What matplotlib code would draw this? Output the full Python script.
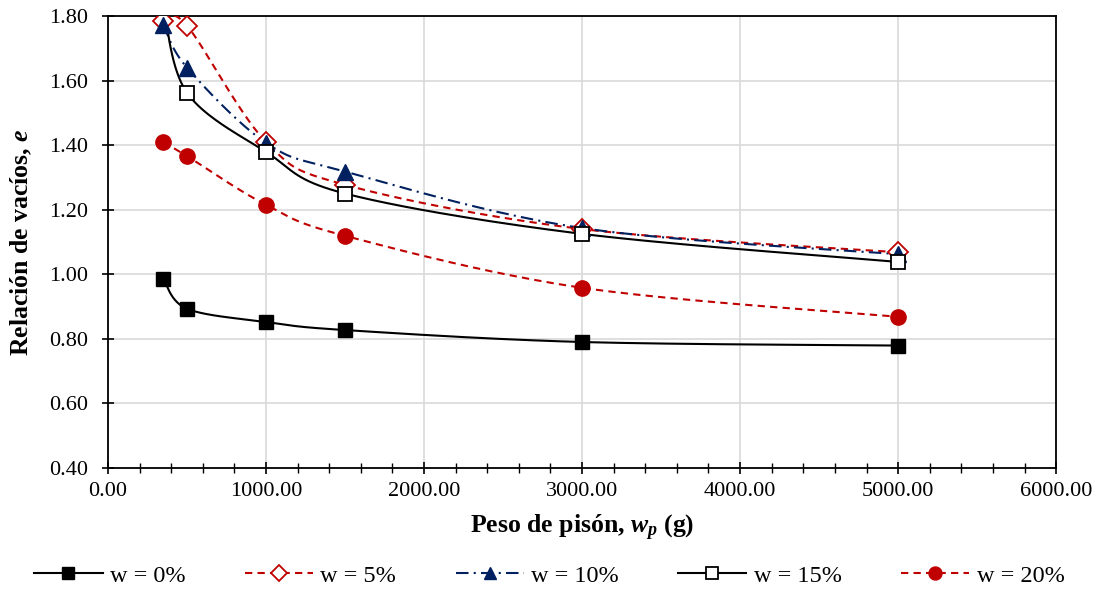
import numpy as np
import matplotlib
matplotlib.use("Agg")
import matplotlib.pyplot as plt
from matplotlib.ticker import MultipleLocator, FormatStrFormatter

plt.rcParams['font.family'] = 'Liberation Serif'
plt.rcParams['mathtext.fontset'] = 'custom'
plt.rcParams['mathtext.rm'] = 'Liberation Serif:bold'
plt.rcParams['mathtext.it'] = 'Liberation Serif:italic:bold'
plt.rcParams['mathtext.bf'] = 'Liberation Serif:bold'

# datos
peso = [350, 500, 1000, 1500, 3000, 5000]
e_w0 = [0.985, 0.893, 0.852, 0.827, 0.790, 0.779]
e_w5 = [1.785, 1.770, 1.410, 1.277, 1.140, 1.068]
e_w10 = [1.773, 1.640, 1.407, 1.318, 1.143, 1.062]
e_w15 = [1.830, 1.562, 1.379, 1.250, 1.125, 1.038]
e_w20 = [1.410, 1.366, 1.215, 1.119, 0.958, 0.868]

etiquetas = ['w = 0%', 'w = 5%', 'w = 10%', 'w = 15%', 'w = 20%']

xmin, xmax, ymin, ymax = 0, 6000, 0.40, 1.80


def suavizar(x, y, sx=948.0, sy=452.0, n=40):
    # curva suavizada tipo Excel (Bezier / Catmull-Rom) en coordenadas de pantalla
    px = (np.array(x, float) - xmin) / (xmax - xmin) * sx
    py = (np.array(y, float) - ymin) / (ymax - ymin) * sy
    P = np.column_stack([px, py])
    P = np.vstack([P[0], P, P[-1]])
    out = []
    t = np.linspace(0, 1, n)[:, None]
    for i in range(1, len(P) - 2):
        p0, p3 = P[i], P[i + 1]
        c1 = p0 + (P[i + 1] - P[i - 1]) / 6.0
        c2 = p3 - (P[i + 2] - P[i]) / 6.0
        seg = (1 - t) ** 3 * p0 + 3 * (1 - t) ** 2 * t * c1 + 3 * (1 - t) * t ** 2 * c2 + t ** 3 * p3
        out.append(seg)
    out = np.vstack(out)
    xs = out[:, 0] / sx * (xmax - xmin) + xmin
    ys = out[:, 1] / sy * (ymax - ymin) + ymin
    return xs, ys


rojo = '#C00000'
azul = '#002060'

series = [
    (e_w0, dict(color='black', ls='-'), dict(marker='s', ms=10, mfc='black', mec='black')),
    (e_w5, dict(color=rojo, ls=(0, (3.5, 2.5))), dict(marker='D', ms=10, mfc='white', mec=rojo, mew=1.3)),
    (e_w10, dict(color=azul, ls=(0, (6, 2.5, 1, 2.5))), dict(marker='^', ms=11, mfc=azul, mec=azul)),
    (e_w15, dict(color='black', ls='-'), dict(marker='s', ms=10, mfc='white', mec='black', mew=1.3)),
    (e_w20, dict(color=rojo, ls=(0, (3.5, 2.5))), dict(marker='o', ms=11, mfc=rojo, mec=rojo)),
]

fig = plt.figure(figsize=(10.99, 5.93), dpi=100)
ax = fig.add_axes([0.0983, 0.211, 0.8627, 0.762])

for (e, lst, mst), lab in zip(series, etiquetas):
    xs, ys = suavizar(peso, e)
    ax.plot(xs, ys, lw=1.5, zorder=3, **lst)
    ax.plot(peso, e, ls='none', zorder=4, **mst)
    # entrada de leyenda
    ax.plot([], [], lw=1.5, label=lab, **lst, **mst)

ax.set_xlim(xmin, xmax)
ax.set_ylim(ymin, ymax)
ax.xaxis.set_major_locator(MultipleLocator(1000))
ax.xaxis.set_minor_locator(MultipleLocator(200))
ax.yaxis.set_major_locator(MultipleLocator(0.2))
ax.xaxis.set_major_formatter(FormatStrFormatter('%.2f'))
ax.yaxis.set_major_formatter(FormatStrFormatter('%.2f'))
ax.grid(True, which='major', color='#D9D9D9', lw=1.2, zorder=0)
ax.set_axisbelow(True)
ax.tick_params(axis='both', which='major', direction='inout', length=8, width=1.2, labelsize=16)
ax.tick_params(axis='y', which='major', pad=10)
ax.tick_params(axis='x', which='major', pad=6)
ax.tick_params(axis='x', which='minor', direction='inout', length=7, width=1.0)
for s in ax.spines.values():
    s.set_linewidth(1.3)
    s.set_color('black')

ax.set_xlabel('Peso de pisón, $w_p$ (g)', fontsize=18.5, fontweight='bold', labelpad=9)
ax.set_ylabel('Relación de vacíos, $e$', fontsize=18.5, fontweight='bold', labelpad=11)

fig.legend(loc='center', bbox_to_anchor=(0.5, 0.029), ncol=5, frameon=False,
           fontsize=17.5, handlelength=2.8, columnspacing=2.45, handletextpad=0.3,
           markerscale=0.85)

fig.savefig('out.png', dpi=100)
